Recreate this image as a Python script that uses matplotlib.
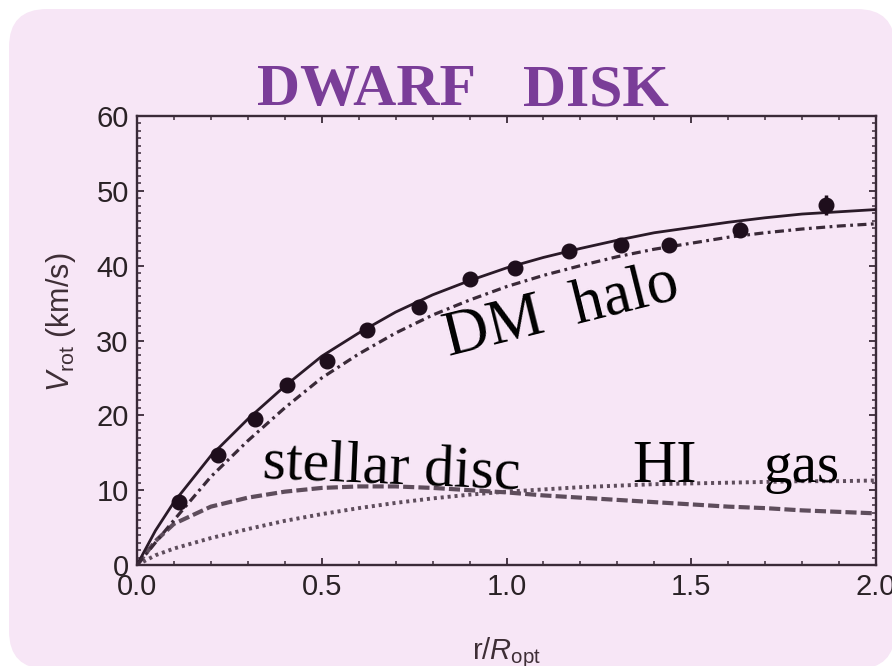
import matplotlib
matplotlib.use("Agg")
import matplotlib.pyplot as plt
from matplotlib.patches import FancyBboxPatch
from matplotlib.transforms import IdentityTransform
from matplotlib.ticker import MultipleLocator, FormatStrFormatter

plt.rcParams['lines.scale_dashes'] = False
plt.rcParams['mathtext.fontset'] = 'custom'
plt.rcParams['mathtext.rm'] = 'Liberation Sans'
plt.rcParams['mathtext.it'] = 'Liberation Sans:italic'

# ---- data ----
r_model = [0.0, 0.05, 0.1, 0.2, 0.3, 0.4, 0.5, 0.6, 0.7, 0.8, 0.9, 1.0,
           1.1, 1.2, 1.3, 1.4, 1.5, 1.6, 1.7, 1.8, 1.9, 2.0]
v_total = [0.0, 4.6, 8.4, 14.6, 19.5, 23.9, 27.9, 31.0, 33.8, 36.1, 38.0, 39.7,
           41.1, 42.3, 43.4, 44.4, 45.1, 45.8, 46.4, 46.9, 47.2, 47.5]
v_halo = [0.0, 3.0, 6.0, 11.8, 16.6, 21.0, 25.0, 28.2, 31.0, 33.4, 35.4, 37.2,
          38.7, 40.0, 41.2, 42.2, 43.0, 43.8, 44.4, 44.9, 45.3, 45.6]
v_disc = [0.0, 3.2, 5.5, 7.8, 9.0, 9.8, 10.3, 10.5, 10.5, 10.3, 10.0, 9.7,
          9.3, 9.0, 8.7, 8.4, 8.1, 7.8, 7.6, 7.3, 7.1, 6.9]
v_gas = [0.0, 1.3, 2.2, 3.6, 4.8, 5.9, 6.8, 7.6, 8.3, 8.9, 9.4, 9.8,
         10.1, 10.4, 10.6, 10.8, 10.9, 11.0, 11.1, 11.2, 11.2, 11.3]

r_obs = [0.114, 0.219, 0.319, 0.406, 0.514, 0.622, 0.763, 0.901, 1.023,
         1.169, 1.31, 1.44, 1.632, 1.865]
v_obs = [8.4, 14.7, 19.5, 24.0, 27.2, 31.4, 34.5, 38.2, 39.7,
         42.0, 42.8, 42.8, 44.8, 48.1]
v_err = [0.3, 0.3, 0.4, 0.4, 0.6, 0.4, 0.6, 0.4, 0.4,
         0.4, 0.9, 0.5, 1.0, 1.3]

x_ticks = [0.0, 0.5, 1.0, 1.5, 2.0]
y_ticks = [0, 10, 20, 30, 40, 50, 60]

W, H = 892, 666
fig = plt.figure(figsize=(W / 100, H / 100), dpi=100)
fig.patch.set_facecolor('white')

panel = FancyBboxPatch((9, -3), 886, 660, boxstyle="round,pad=0,rounding_size=38",
                       transform=IdentityTransform(), facecolor='#F7E6F6',
                       edgecolor='none', zorder=-5)
fig.patches.append(panel)

ax = fig.add_axes([137 / W, 1 - 565 / H, (876 - 137) / W, (565 - 116) / H])
ax.set_facecolor('none')
ax.set_zorder(1)

dark = '#2a1a28'
grey = '#5e4d5c'

ax.plot(r_model, v_total, color=dark, lw=2.0, solid_capstyle='round', zorder=3)
ax.plot(r_model, v_halo, color='#3a2a38', lw=2.3, dashes=(6.5, 3.2, 2.0, 3.2), zorder=3)
ax.plot(r_model, v_disc, color=grey, lw=3.0, dashes=(8.0, 3.0), zorder=2)
ax.plot(r_model, v_gas, color=grey, lw=2.8, dashes=(2.2, 2.8), zorder=2)
ax.errorbar(r_obs, v_obs, yerr=v_err, fmt='o', color='#1e0e1c', ms=10.5,
            elinewidth=2.5, capsize=0, zorder=4)

ax.set_xlim(0, 2.0)
ax.set_ylim(0, 60)
ax.set_xticks(x_ticks)
ax.set_yticks(y_ticks)
ax.xaxis.set_major_formatter(FormatStrFormatter('%.1f'))
ax.xaxis.set_minor_locator(MultipleLocator(0.1))
ax.yaxis.set_minor_locator(MultipleLocator(1))

spc = '#3a2a38'
for s in ax.spines.values():
    s.set_color(spc)
    s.set_linewidth(1.7)
ax.tick_params(which='both', direction='in', top=True, right=True, color=spc)
ax.tick_params(which='major', length=5, width=1.3, labelsize=21,
               labelcolor='#2a2226', pad=6)
ax.tick_params(which='minor', length=3, width=1.1)
for lab in ax.get_xticklabels() + ax.get_yticklabels():
    lab.set_family('Liberation Sans')

ax.set_ylabel(r'$V_{\rm rot}$ (km/s)', fontsize=22, color='#3e2e36',
              family='Liberation Sans')
ax.yaxis.set_label_coords(-0.080, 0.54)
ax.set_xlabel(r'r/$R_{\rm opt}$', fontsize=21, color='#3e2e36',
              family='Liberation Sans')
ax.xaxis.set_label_coords(0.5, -0.156)

# title
purple = '#7A3D98'
fig.text(257 / W, 1 - 105 / H, 'DWARF', color=purple, fontsize=43,
         family='Liberation Serif', weight='bold', ha='left', va='baseline')
fig.text(523 / W, 1 - 105 / H, 'DISK', color=purple, fontsize=43,
         family='Liberation Serif', weight='bold', ha='left', va='baseline')

# annotations
tf = dict(family='Liberation Serif', color='black', rotation_mode='anchor',
          ha='left', va='baseline')
ax.text(0.338, 11.6, 'stellar disc', fontsize=43, rotation=-2.5, **tf)
ax.text(1.34, 11.1, 'HI', fontsize=44, rotation=0, **tf)
ax.text(1.695, 11.1, 'gas', fontsize=41, rotation=0, **tf)
ax.text(0.843, 28.0, 'DM  halo', fontsize=45, rotation=14, **tf)

fig.savefig('out.png', dpi=100, facecolor='white')
